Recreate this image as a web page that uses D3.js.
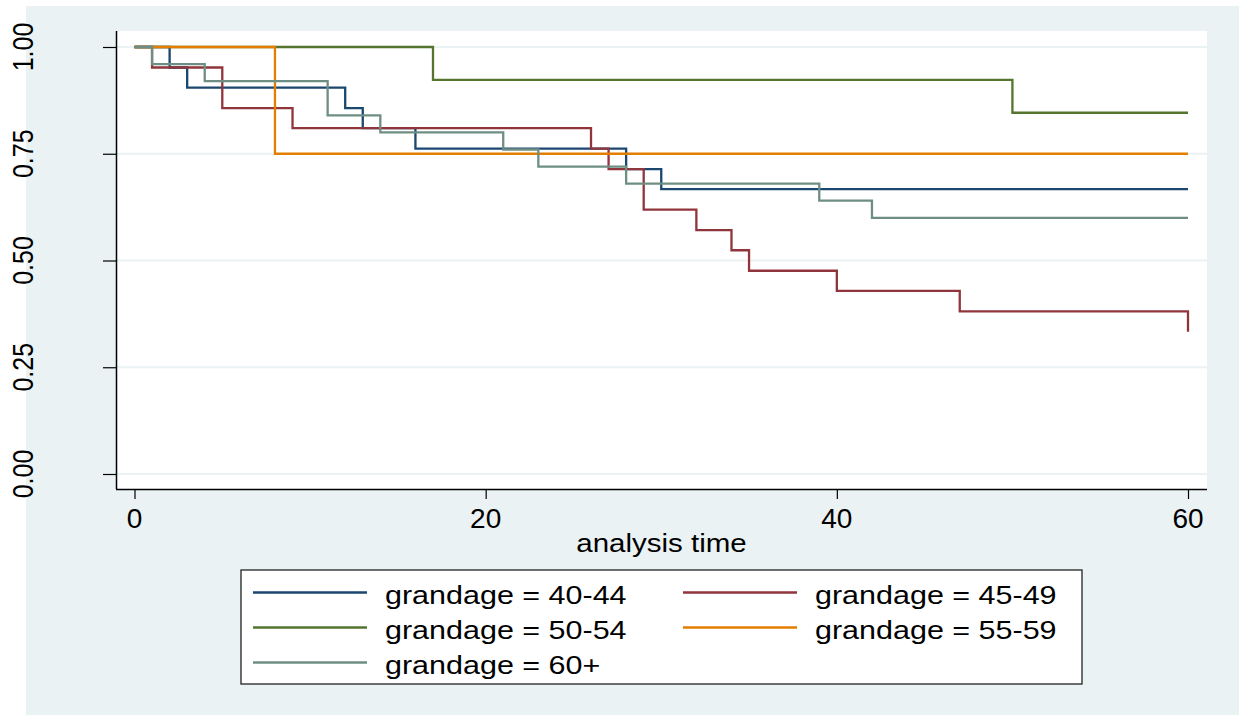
<!DOCTYPE html>
<html>
<head>
<meta charset="utf-8">
<script src="https://cdn.jsdelivr.net/npm/d3@7"></script>
<style>
  html, body { margin: 0; padding: 0; background: #ffffff; }
  svg { display: block; }
  text { font-family: "Liberation Sans", Arial, sans-serif; fill: #000; }
</style>
</head>
<body>
<svg id="chart" width="1241" height="715"></svg>
<script>
// ---------------- data ----------------
const seriesNames = ["grandage = 40-44", "grandage = 45-49", "grandage = 50-54", "grandage = 55-59", "grandage = 60+"];

const times4044 = [0, 2, 3, 12, 13, 16, 28, 30, 60];
const surv4044  = [1, 0.952, 0.905, 0.857, 0.810, 0.762, 0.714, 0.667, 0.667];

const times4549 = [0, 1, 5, 9, 26, 27, 29, 32, 34, 35, 40, 47, 60];
const surv4549  = [1, 0.952, 0.857, 0.810, 0.762, 0.714, 0.619, 0.571, 0.524, 0.476, 0.429, 0.381, 0.333];

const times5054 = [0, 17, 50, 60];
const surv5054  = [1, 0.923, 0.846, 0.846];

const times5559 = [0, 8, 60];
const surv5559  = [1, 0.75, 0.75];

const times60p = [0, 1, 4, 11, 14, 21, 23, 28, 39, 42, 60];
const surv60p  = [1, 0.96, 0.92, 0.84, 0.80, 0.76, 0.72, 0.68, 0.64, 0.60, 0.60];

const xTicks = [0, 20, 40, 60];
const yTicks = [0, 0.25, 0.5, 0.75, 1];
const yTickLabels = ["0.00", "0.25", "0.50", "0.75", "1.00"];
const xTitle = "analysis time";

// ---------------- styling ----------------
const colors = ["#1a476f", "#90353b", "#55752f", "#e37e00", "#6e8e84"];
const bg = "#eaf2f3";
const stretch = 1.18;

const svg = d3.select("#chart");

// graph region
svg.append("rect").attr("x", 26).attr("y", 6).attr("width", 1213).attr("height", 709).attr("fill", bg);

// plot region
const plot = { left: 116, right: 1207, top: 31, bottom: 489 };
svg.append("rect")
  .attr("x", plot.left).attr("y", plot.top)
  .attr("width", plot.right - plot.left).attr("height", plot.bottom - plot.top)
  .attr("fill", "#ffffff");

const x = d3.scaleLinear().domain([0, 60]).range([134.5, 1188]);
const y = d3.scaleLinear().domain([0, 1]).range([474, 47]);

// gridlines
svg.append("g").selectAll("line").data(yTicks).join("line")
  .attr("x1", plot.left + 1).attr("x2", plot.right)
  .attr("y1", d => y(d)).attr("y2", d => y(d))
  .attr("stroke", bg).attr("stroke-width", 2);

// curves
const series = [
  { name: seriesNames[0], t: times4044, s: surv4044 },
  { name: seriesNames[1], t: times4549, s: surv4549 },
  { name: seriesNames[2], t: times5054, s: surv5054 },
  { name: seriesNames[3], t: times5559, s: surv5559 },
  { name: seriesNames[4], t: times60p, s: surv60p }
];
const line = d3.line().curve(d3.curveStepAfter).x(d => x(d[0])).y(d => y(d[1]));
svg.append("g").selectAll("path").data(series).join("path")
  .attr("d", d => line(d.t.map((tt, i) => [tt, d.s[i]])))
  .attr("fill", "none")
  .attr("stroke", (d, i) => colors[i])
  .attr("stroke-width", 2.3)
  .attr("stroke-linejoin", "miter")
  .attr("stroke-linecap", "butt");

// y axis
const yAxis = svg.append("g").attr("transform", `translate(${plot.left},0)`)
  .call(d3.axisLeft(y).tickValues(yTicks).tickSize(13).tickFormat(""));
yAxis.select(".domain").attr("d", `M0.5,${plot.top}V${plot.bottom}`).attr("stroke", "#000").attr("stroke-width", 1.5);
yAxis.selectAll(".tick line").attr("stroke", "#000").attr("stroke-width", 1.2);

svg.append("g").selectAll("text").data(yTicks).join("text")
  .attr("transform", (d) => `translate(33,${y(d)}) rotate(-90) scale(1,${stretch})`)
  .attr("text-anchor", "middle")
  .attr("font-size", 25)
  .text((d, i) => yTickLabels[i]);

// x axis
const xAxis = svg.append("g").attr("transform", `translate(0,${plot.bottom})`)
  .call(d3.axisBottom(x).tickValues(xTicks).tickSize(10).tickFormat(""));
xAxis.select(".domain").attr("d", `M${plot.left},0.5H${plot.right}`).attr("stroke", "#000").attr("stroke-width", 1.5);
xAxis.selectAll(".tick line").attr("stroke", "#000").attr("stroke-width", 1.2);

svg.append("g").selectAll("text").data(xTicks).join("text")
  .attr("transform", d => `translate(${x(d)},528) scale(${stretch * 0.95},1.08)`)
  .attr("text-anchor", "middle")
  .attr("font-size", 25)
  .text(d => d3.format("d")(d));

svg.append("text")
  .attr("transform", `translate(${(plot.left + plot.right) / 2},552) scale(${stretch},1)`)
  .attr("text-anchor", "middle")
  .attr("font-size", 25)
  .text(xTitle);

// legend
const lg = { x: 241, y: 570, w: 841, h: 114 };
svg.append("rect").attr("x", lg.x).attr("y", lg.y).attr("width", lg.w).attr("height", lg.h)
  .attr("fill", "#fff").attr("stroke", "#222").attr("stroke-width", 1.3);

const colX = [253, 683];
const rowY = [592.5, 627.5, 662.5];
const legendItems = svg.append("g").selectAll("g").data(series).join("g")
  .attr("transform", (d, i) => `translate(${colX[i % 2]},${rowY[Math.floor(i / 2)]})`);
legendItems.append("line")
  .attr("x1", 0).attr("x2", 114).attr("y1", 0).attr("y2", 0)
  .attr("stroke", (d, i) => colors[i]).attr("stroke-width", 2.3);
legendItems.append("text")
  .attr("transform", `translate(132,11.5) scale(${stretch + 0.04},1)`)
  .attr("font-size", 25)
  .text(d => d.name);
</script>
</body>
</html>
